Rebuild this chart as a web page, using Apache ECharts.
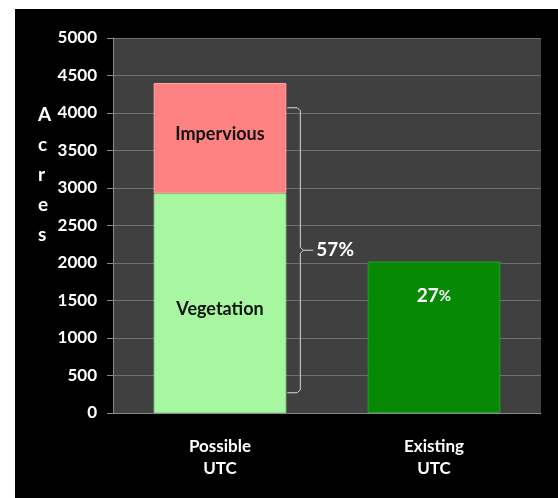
<html>
<head>
<meta charset="UTF-8">
<script src="https://cdn.jsdelivr.net/npm/echarts@6/dist/echarts.min.js"></script>
<style>
	body { margin: 0; background: #fff; }
	#utcChart { position: absolute; left: 15px; top: 9px; width: 543px; height: 489px; background: #000; }
</style>
</head>
<body>
	<div id="utcChart"></div>
</body>
<script>
	// data
	var categories = ['Possible\nUTC', 'Existing\nUTC'];
	var vegetation = [2930, null];
	var impervious = [1470, null];
	var existing = [null, 2020];
	var yTicks = [0, 500, 1000, 1500, 2000, 2500, 3000, 3500, 4000, 4500, 5000];
	var bracketRange = [270, 4070]; // acres spanned by the 57% bracket
	var possibleLabel = '57%';
	var existingLabel = '27';

	var FONT = 'Lato, "Open Sans", sans-serif';
	var utcChart = echarts.init(document.getElementById('utcChart'));

	var option = {
		animation: false,
		title: {
			text: 'A\nc\nr\ne\ns',
			left: 18,
			top: 86,
			textStyle: { color: '#fff', fontSize: 19, fontWeight: 'bold', fontFamily: FONT, lineHeight: 30, align: 'center' }
		},
		grid: {
			left: 98, right: 17, top: 29, bottom: 85,
			show: true, backgroundColor: '#404040', borderWidth: 0
		},
		xAxis: {
			type: 'category',
			data: categories,
			axisTick: { show: false },
			axisLine: { lineStyle: { color: '#8a8a8a', width: 1 } },
			axisLabel: { color: '#fff', fontSize: 17, fontWeight: 'bold', fontFamily: FONT, lineHeight: 22, margin: 23 }
		},
		yAxis: {
			type: 'value',
			min: yTicks[0],
			max: yTicks[yTicks.length - 1],
			interval: 500,
			axisLine: { show: true, lineStyle: { color: '#8a8a8a' } },
			axisTick: { show: true, length: 6, lineStyle: { color: '#8a8a8a' } },
			splitLine: { lineStyle: { color: '#6f6f6f', width: 1 } },
			axisLabel: { color: '#fff', fontSize: 17, fontWeight: 'bold', fontFamily: FONT, margin: 16,
				formatter: function (v) { return String(v); } }
		},
		series: [
			{
				name: 'Vegetation', type: 'bar', stack: 'utc', barWidth: '62%',
				data: vegetation,
				itemStyle: { color: '#a6f7a0', borderColor: '#8fe08a', borderWidth: 1 },
				label: { show: true, position: 'inside', offset: [0, 6], formatter: 'Vegetation',
					color: '#111', fontSize: 18, fontWeight: 'bold', fontFamily: FONT }
			},
			{
				name: 'Impervious', type: 'bar', stack: 'utc', barWidth: '62%',
				data: impervious,
				itemStyle: { color: '#ff8282', borderColor: '#ffa5a5', borderWidth: 1 },
				label: { show: true, position: 'inside', offset: [0, -4], formatter: 'Impervious',
					color: '#111', fontSize: 18, fontWeight: 'bold', fontFamily: FONT }
			},
			{
				name: 'Existing', type: 'bar', stack: 'utc', barWidth: '62%',
				data: existing,
				itemStyle: { color: '#068a06', borderColor: '#22a022', borderWidth: 1 },
				label: { show: true, position: 'insideTop', distance: 25,
					formatter: '{a|' + existingLabel + '}{b|%}',
					rich: {
						a: { color: '#fff', fontSize: 19, fontWeight: 'bold', fontFamily: FONT },
						b: { color: '#fff', fontSize: 15, fontWeight: 'bold', fontFamily: FONT }
					}
				}
			}
		]
	};
	utcChart.setOption(option);

	// bracket next to the Possible bar
	function drawBracket() {
		var top = utcChart.convertToPixel({ gridIndex: 0 }, [0, bracketRange[1]]);
		var bot = utcChart.convertToPixel({ gridIndex: 0 }, [0, bracketRange[0]]);
		var c0 = utcChart.convertToPixel({ gridIndex: 0 }, [0, 0]);
		var c1 = utcChart.convertToPixel({ gridIndex: 0 }, [1, 0]);
		var barRight = c0[0] + (c1[0] - c0[0]) * 0.62 / 2;
		var bx = barRight + 14;
		var midY = (top[1] + bot[1]) / 2;
		var line = { stroke: '#d8d8d8', lineWidth: 1, fill: null };
		utcChart.setOption({
			graphic: [
				{ type: 'polyline', silent: true, shape: { points: [[barRight + 1, top[1]], [bx - 3, top[1]], [bx, top[1] + 3], [bx, midY - 3], [bx + 3, midY], [bx + 13, midY]] }, style: line },
				{ type: 'polyline', silent: true, shape: { points: [[bx + 3, midY], [bx, midY + 3], [bx, bot[1] - 3], [bx - 3, bot[1]], [barRight + 1, bot[1]]] }, style: line },
				{ type: 'text', silent: true, x: bx + 16, y: midY, style: { text: possibleLabel, fill: '#fff', fontSize: 19, fontWeight: 'bold', fontFamily: FONT, verticalAlign: 'middle' } }
			]
		});
	}
	drawBracket();
</script>
</html>
